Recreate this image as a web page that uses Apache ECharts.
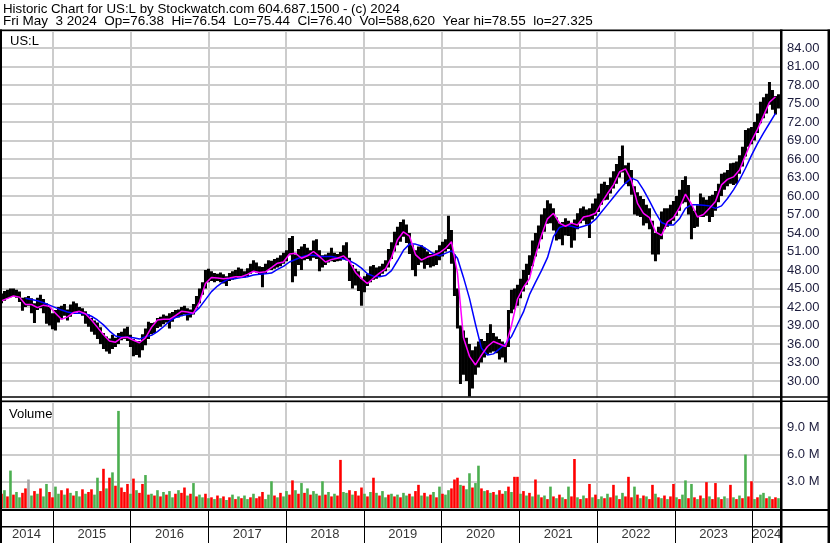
<!DOCTYPE html>
<html><head><meta charset="utf-8">
<script src="https://cdn.jsdelivr.net/npm/echarts@6.0.0/dist/echarts.min.js"></script>
<style>html,body{margin:0;padding:0;background:#fff}#c{width:830px;height:543px}</style>
</head><body><div id="c"></div>
<script>
// ---------------- DATA ----------------
const titleLine1 = "Historic Chart for US:L by Stockwatch.com 604.687.1500 - (c) 2024";
const titleLine2 = "Fri May  3 2024  Op=76.38  Hi=76.54  Lo=75.44  Cl=76.40  Vol=588,620  Year hi=78.55  lo=27.325";
const symbolName = "US:L";
const volumeName = "Volume";
const years = [2014, 2015, 2016, 2017, 2018, 2019, 2020, 2021, 2022, 2023, 2024];

// bars: one every ~2 weeks, first one in early May 2014 (fractional year)
const firstBarYear = 2014.337;
const barStepYears = 0.0386;
const firstVisibleYear = 2014.318;
const lastVisibleYear = 2024.367;

const highs = [
 44.2,44.6,44.8,45.0,45.0,44.8,44.5,43.5,43.6,43.8,
 43.4,42.6,43.5,44.0,43.3,42.6,42.0,41.0,41.5,42.0,
 42.2,42.5,41.6,42.4,42.9,42.6,42.0,41.8,41.3,40.8,
 40.2,39.8,39.5,38.7,37.8,37.2,36.9,37.5,37.0,37.8,
 38.0,38.5,38.8,37.5,36.8,36.5,36.5,37.6,38.5,39.6,
 39.4,39.5,40.2,40.4,40.8,40.6,41.0,41.2,41.5,41.6,
 42.0,42.2,41.8,41.6,42.5,43.8,45.0,46.0,48.0,48.2,
 47.8,47.5,47.4,47.6,47.3,47.0,47.5,47.8,48.0,48.4,
 48.2,47.8,48.3,49.0,49.6,49.2,48.6,48.5,49.0,49.6,
 49.5,49.8,50.0,50.4,50.8,51.2,53.2,53.5,50.5,51.4,
 51.8,52.2,51.6,51.2,52.8,53.0,51.2,50.4,50.5,50.8,
 51.6,50.8,50.6,50.9,52.0,52.5,50.0,48.8,48.2,47.8,
 46.6,47.0,47.4,48.6,48.8,48.4,48.6,49.0,49.6,51.4,
 52.5,54.2,55.0,55.8,56.2,55.4,54.0,52.0,51.2,51.8,
 52.0,51.6,51.0,50.6,50.8,51.2,52.0,52.6,53.0,56.8,
 54.5,50.5,45.0,39.0,38.2,37.0,36.0,35.0,35.6,36.4,
 36.8,36.5,37.8,39.2,37.8,37.2,36.8,36.4,36.0,41.5,
 44.8,45.0,45.6,46.6,48.0,49.0,50.4,52.8,54.0,55.2,
 57.0,58.0,59.3,58.8,58.0,56.5,55.6,55.8,56.4,56.0,
 55.5,56.2,57.2,58.0,58.3,57.8,58.0,58.8,59.6,60.4,
 62.0,62.3,61.8,63.0,64.0,65.2,66.5,68.2,65.0,65.4,
 64.2,61.6,60.6,60.0,59.5,58.6,58.0,56.0,54.0,55.0,
 57.5,58.0,58.0,58.6,59.2,60.0,61.0,62.6,63.2,61.8,
 58.5,57.6,58.5,60.4,59.8,59.4,60.0,60.2,60.8,62.0,
 63.6,63.8,64.2,65.3,65.4,65.6,66.6,68.0,70.7,71.0,
 71.2,72.0,73.4,75.3,76.0,76.6,78.5,77.2,76.2,76.5
];
const lows = [
 42.6,43.0,43.4,43.6,43.8,43.5,42.8,41.4,42.0,42.2,
 41.0,39.4,41.5,41.8,41.0,39.3,39.0,38.4,38.2,39.5,
 40.0,40.6,39.8,40.4,41.0,41.2,41.0,40.6,39.3,38.8,
 38.0,37.5,36.8,36.0,35.2,34.8,34.4,35.2,35.5,36.0,
 36.6,36.8,36.5,35.5,34.0,34.2,33.8,35.0,35.8,36.8,
 37.6,37.8,38.6,38.8,39.2,39.5,38.5,39.6,40.2,40.3,
 40.5,40.8,39.8,40.3,40.8,41.8,42.6,44.0,45.0,46.0,
 46.2,46.0,46.2,46.0,45.8,45.4,46.2,46.4,46.6,46.8,
 47.0,46.8,47.0,47.4,47.8,47.6,47.2,45.2,47.5,48.0,
 48.0,48.2,48.4,48.6,49.0,49.4,50.4,46.0,47.0,48.8,
 48.0,49.6,49.8,49.5,50.0,49.8,47.8,48.4,48.8,49.2,
 49.4,49.3,49.4,49.5,49.8,49.6,46.2,45.0,45.5,44.6,
 42.2,44.4,45.4,46.0,46.4,46.6,47.0,47.4,47.8,48.4,
 49.8,51.0,52.0,52.6,53.4,52.4,50.6,48.0,47.0,48.8,
 49.2,48.2,48.8,48.4,48.6,48.8,49.6,50.2,51.0,51.4,
 49.0,43.8,38.5,29.5,31.0,30.0,27.5,28.8,31.0,32.2,
 33.0,33.8,34.2,34.6,34.8,34.5,33.5,33.8,33.0,35.5,
 41.0,41.6,42.2,43.4,44.5,45.6,47.2,48.6,50.2,51.5,
 53.0,54.2,55.5,55.6,54.4,52.8,53.0,52.0,53.6,53.5,
 51.6,52.8,54.6,55.6,56.0,55.4,53.2,56.2,56.8,57.4,
 58.6,59.3,59.4,60.4,61.2,62.0,63.0,63.8,62.0,61.6,
 60.2,57.0,56.8,56.6,55.2,55.6,54.6,50.5,49.4,50.5,
 53.0,54.6,55.0,55.4,56.0,56.8,57.6,58.8,59.0,57.0,
 53.0,54.8,55.0,56.6,56.6,56.8,55.8,56.6,57.6,59.0,
 60.0,61.0,61.6,62.0,61.8,62.0,63.6,64.8,66.4,68.0,
 68.4,69.0,70.2,71.8,72.6,73.4,74.8,74.0,73.2,74.2
];

// moving averages, one value every second bar
const maShort = [
 43.0,43.4,43.8,43.6,42.4,42.4,41.9,42.3,42.1,41.0,
 40.0,40.4,41.1,41.3,40.9,39.9,38.7,37.5,36.5,36.3,
 37.0,37.1,36.6,36.2,37.0,38.7,39.9,40.0,40.0,40.6,
 41.3,41.2,41.0,42.8,45.8,46.8,46.7,46.6,46.7,46.9,
 46.9,47.3,47.8,47.6,47.7,48.4,49.1,49.3,50.6,50.7,
 49.9,50.3,51.0,50.2,49.3,49.7,49.9,50.3,49.4,47.6,
 46.6,45.8,46.7,47.5,48.2,50.0,52.9,54.2,53.5,50.5,
 49.6,50.1,50.4,50.8,51.5,52.6,47.5,37.0,34.0,32.6,
 34.2,35.6,36.4,36.0,35.6,39.0,43.3,45.2,46.6,50.4,
 53.6,56.3,57.2,55.6,55.1,55.6,55.3,56.6,56.8,57.2,
 58.9,60.4,61.8,63.9,64.4,62.5,58.8,57.2,56.5,54.2,
 53.6,55.8,56.5,58.1,60.3,58.7,56.6,57.0,58.0,59.1,
 61.8,62.7,63.1,64.2,66.6,68.9,70.8,73.0,75.2,76.1
];
const maLong = [
 null,null,null,null,43.4,43.2,43.0,42.7,42.3,41.9,
 41.5,41.2,41.0,41.0,40.9,40.5,39.9,39.1,38.1,37.3,
 37.1,37.1,37.0,36.8,37.2,37.4,38.0,38.8,39.7,40.3,
 40.6,40.8,41.0,41.9,43.2,44.5,45.4,46.1,46.6,46.6,
 46.8,46.9,47.2,47.3,47.4,47.5,48.1,48.6,49.3,49.7,
 50.1,50.4,50.4,50.2,50.2,50.2,50.0,49.8,49.5,49.0,
 48.3,47.4,47.0,46.9,47.1,47.9,49.5,51.2,52.2,52.2,
 51.9,51.3,50.6,50.3,50.7,51.1,49.9,46.8,43.4,39.2,
 35.3,34.2,34.4,35.2,36.0,37.2,39.2,41.2,44.0,46.0,
 47.9,50.0,53.4,54.9,55.2,55.1,54.8,55.1,55.4,56.2,
 57.4,58.6,59.8,61.0,62.1,62.9,62.5,61.0,59.2,57.3,
 55.7,55.3,55.3,56.3,58.0,58.6,58.6,58.5,58.4,58.0,
 58.4,59.6,61.0,62.6,64.5,66.6,68.5,70.2,71.8,73.4
];

// volume in millions, one per bar; direction: r = down, g = up, n = unchanged
const volumes = [
 1.6,2.0,1.3,4.2,1.5,1.8,1.2,1.7,2.2,3.2,
 1.4,1.9,1.6,2.2,1.3,2.7,1.8,1.2,2.4,1.6,
 2.0,1.5,2.2,1.7,1.4,1.9,1.3,2.1,1.6,1.8,
 2.1,1.5,3.4,1.9,4.4,2.2,3.4,4.0,2.5,10.9,
 2.3,1.8,2.7,1.6,3.3,2.0,1.7,2.7,3.7,1.5,
 1.6,1.4,2.0,1.3,1.8,1.5,1.9,1.2,1.6,2.0,
 1.7,2.3,1.4,1.6,2.8,1.3,1.5,1.2,1.6,1.1,
 1.2,1.0,1.4,1.1,1.3,0.9,1.2,1.5,1.0,1.3,
 1.1,1.4,1.0,1.2,1.6,1.1,1.3,1.8,1.0,1.5,
 3.0,1.4,1.2,1.7,1.3,1.9,1.5,3.1,2.0,1.6,
 2.8,1.7,2.2,1.5,1.9,1.6,1.4,3.0,1.5,1.8,
 1.3,1.6,1.4,5.4,1.8,1.7,2.0,1.5,1.9,1.4,
 2.3,1.6,1.3,1.8,3.4,1.7,1.4,1.9,1.2,1.5,
 1.6,1.3,1.5,1.2,1.7,1.4,1.6,1.3,1.9,2.6,
 1.4,1.7,1.3,1.5,1.8,1.2,2.4,1.6,1.5,2.0,
 2.2,3.2,3.4,2.6,2.5,2.1,3.9,2.3,2.8,4.75,
 2.2,1.9,2.0,1.7,1.8,1.5,2.0,1.6,1.9,2.4,
 1.8,3.5,3.5,1.6,1.9,1.4,1.7,1.3,3.2,1.5,
 1.2,1.4,1.0,2.4,1.3,1.1,1.5,1.2,1.0,2.4,
 1.3,5.5,1.2,1.0,1.4,1.1,2.7,1.2,1.5,1.0,
 1.3,1.1,1.6,1.2,2.6,1.4,1.0,1.7,1.3,3.5,
 1.2,2.4,1.5,1.1,1.4,1.3,1.0,2.6,1.6,1.2,
 1.1,1.4,1.0,1.3,2.7,1.2,1.0,1.5,3.1,1.1,
 2.7,1.2,1.0,1.4,1.1,2.9,1.3,1.0,2.8,1.2,
 1.0,1.3,1.1,2.6,1.2,1.0,1.4,1.1,6.0,1.3,
 3.0,1.0,1.2,1.5,1.7,1.1,1.3,1.0,1.2,1.1
];
const volumeDir =
 "rgrgrggrrn" + "grgrggrrgg" + "rgrgrggrgr" + "rggrrgrgrg" + "rrrgrgrrgr" +
 "grgrgrggrg" + "rrgrgrggrg" + "rgrgrgrgrg" + "rggrgrrrgg" + "grgrggrrgr" +
 "grgrggrgrg" + "rgrrggrgrr" + "rgrgrgrggr" + "grgrggrgrr" + "grgrgrgrgg" +
 "rrrgrggrgg" + "rgrgrgrrgr" + "grrgrgrgrg" + "rgrgrgrgrg" + "rrgrgrrgrg" +
 "grgrrgrgrr" + "rgrgrgrrgr" + "grgrrgrggr" + "grgrgrgrrg" + "rgnrgrgrgr" +
 "rgrggrgrrg";

const priceMin = 27, priceMax = 86.76, priceStep = 3;
const volMax = 11.9, volStep = 3;

// ---------------- CHART ----------------
const FONT = '"Liberation Sans", Arial, sans-serif';
const axisYearMin = 2014;
const gridL = -24.72, gridR = 49;
const colors = { r: '#ff0000', g: '#4caf50', n: '#a8a8a8' };

const barData = highs.map((h, i) => [firstBarYear + i * barStepYears, lows[i], h]);
const maShortData = maShort.map((v, k) => [firstBarYear + 2 * k * barStepYears, v]);
const maLongData = maLong.map((v, k) => [firstBarYear + 2 * k * barStepYears, v]);
const volData = volumes.map((v, i) => [firstBarYear + i * barStepYears, v, volumeDir[i]]);
const yearLabelData = years.map(y => [
  (Math.max(y, firstVisibleYear) + Math.min(y + 1, lastVisibleYear)) / 2, 0.25, String(y)
]);

function xAxisFor(gridIndex, color, width) {
  return {
    type: 'value', gridIndex, min: axisYearMin, max: lastVisibleYear, interval: 1,
    axisLine: { show: false }, axisTick: { show: false }, axisLabel: { show: false },
    splitLine: { show: true, lineStyle: { color, width } }
  };
}

const chart = echarts.init(document.getElementById('c'), null, { renderer: 'canvas' });
chart.setOption({
  animation: false,
  backgroundColor: '#ffffff',
  grid: [
    { left: gridL, right: gridR, top: 31, bottom: 143.5, containLabel: false, outerBoundsMode: 'none' },
    { left: gridL, right: gridR, top: 402, bottom: 35, containLabel: false, outerBoundsMode: 'none' },
    { left: gridL, right: gridR, top: 510, bottom: 0, containLabel: false, outerBoundsMode: 'none' }
  ],
  xAxis: [xAxisFor(0, '#cccccc', 2), xAxisFor(1, '#cccccc', 2), xAxisFor(2, '#000000', 1)],
  yAxis: [
    {
      type: 'value', gridIndex: 0, position: 'right', min: priceMin, max: priceMax, interval: priceStep,
      axisLine: { show: false }, axisTick: { show: false },
      axisLabel: {
        show: true, interval: 0, margin: 6, color: '#1c1c3c', fontSize: 13, fontFamily: FONT,
        formatter: v => (v >= 30 && Math.abs(v / 3 - Math.round(v / 3)) < 1e-6 && v <= 84.01) ? v.toFixed(2) : ''
      },
      splitLine: { show: true, lineStyle: { color: '#cccccc', width: 2 } }
    },
    {
      type: 'value', gridIndex: 1, position: 'right', min: 0, max: volMax, interval: volStep,
      axisLine: { show: false }, axisTick: { show: false },
      axisLabel: {
        show: true, interval: 0, margin: 6, color: '#1c1c3c', fontSize: 13, fontFamily: FONT,
        formatter: v => (v > 0 && v < 10) ? v.toFixed(1) + ' M' : ''
      },
      splitLine: { show: true, lineStyle: { color: '#cccccc', width: 2 } }
    },
    {
      type: 'value', gridIndex: 2, min: 0, max: 1, show: false,
      splitLine: { show: false }
    }
  ],
  series: [
    {
      type: 'custom', xAxisIndex: 0, yAxisIndex: 0, clip: true, data: barData,
      encode: { x: 0, y: [1, 2] },
      renderItem: (params, api) => {
        const x = api.value(0);
        const top = api.coord([x, api.value(2)]);
        const bot = api.coord([x, api.value(1)]);
        return { type: 'rect', shape: { x: top[0] - 1.5, y: top[1], width: 3, height: Math.max(1, bot[1] - top[1]) },
                 style: { fill: '#000000' } };
      },
      z: 2
    },
    {
      type: 'line', xAxisIndex: 0, yAxisIndex: 0, data: maLongData, showSymbol: false, symbol: 'none',
      connectNulls: false, lineStyle: { color: '#0000ff', width: 1.5 }, z: 3
    },
    {
      type: 'line', xAxisIndex: 0, yAxisIndex: 0, data: maShortData, showSymbol: false, symbol: 'none',
      lineStyle: { color: '#ff00ff', width: 1.5 }, z: 4
    },
    {
      type: 'custom', xAxisIndex: 1, yAxisIndex: 1, clip: true, data: volData,
      encode: { x: 0, y: 1 },
      renderItem: (params, api) => {
        const x = api.value(0);
        const top = api.coord([x, api.value(1)]);
        const bot = api.coord([x, 0]);
        const d = volData[params.dataIndex][2];
        return { type: 'rect', shape: { x: top[0] - 1.3, y: top[1], width: 2.6, height: bot[1] - top[1] },
                 style: { fill: colors[d] } };
      },
      z: 2
    },
    {
      type: 'scatter', xAxisIndex: 2, yAxisIndex: 2, data: yearLabelData, symbolSize: 0,
      label: { show: true, position: 'inside', formatter: p => p.data[2], color: '#000000', fontSize: 13, fontFamily: FONT },
      silent: true
    }
  ],
  graphic: { elements: [
    { type: 'rect', z: 100, shape: { x: 0, y: 397.5, width: 830, height: 3 }, style: { fill: '#ffffff' } },
    { type: 'rect', z: 101, shape: { x: 0, y: 396.2, width: 830, height: 1.5 }, style: { fill: '#000000' } },
    { type: 'rect', z: 101, shape: { x: 0, y: 400.5, width: 830, height: 1.5 }, style: { fill: '#000000' } },
    { type: 'rect', z: 101, shape: { x: 0, y: 29.5, width: 830, height: 1.6 }, style: { fill: '#000000' } },
    { type: 'rect', z: 101, shape: { x: 0, y: 509, width: 830, height: 2 }, style: { fill: '#000000' } },
    { type: 'rect', z: 101, shape: { x: 0, y: 526, width: 830, height: 1.5 }, style: { fill: '#000000' } },
    { type: 'rect', z: 101, shape: { x: 0, y: 29.5, width: 2, height: 514 }, style: { fill: '#000000' } },
    { type: 'rect', z: 101, shape: { x: 780, y: 29.5, width: 2.5, height: 514 }, style: { fill: '#000000' } },
    { type: 'rect', z: 101, shape: { x: 827.5, y: 29.5, width: 2.5, height: 514 }, style: { fill: '#000000' } },
    { type: 'text', z: 102, x: 3, y: 9, style: { text: titleLine1, fill: '#000', fontSize: 13.3, fontFamily: FONT, verticalAlign: 'middle' } },
    { type: 'text', z: 102, x: 3, y: 21.5, style: { text: titleLine2, fill: '#000', fontSize: 13.5, fontFamily: FONT, verticalAlign: 'middle' } },
    { type: 'text', z: 102, x: 10, y: 41.5, style: { text: symbolName, fill: '#000', fontSize: 13, fontFamily: FONT, verticalAlign: 'middle' } },
    { type: 'text', z: 102, x: 9, y: 414, style: { text: volumeName, fill: '#000', fontSize: 13, fontFamily: FONT, verticalAlign: 'middle' } }
  ] }
});
</script></body></html>
